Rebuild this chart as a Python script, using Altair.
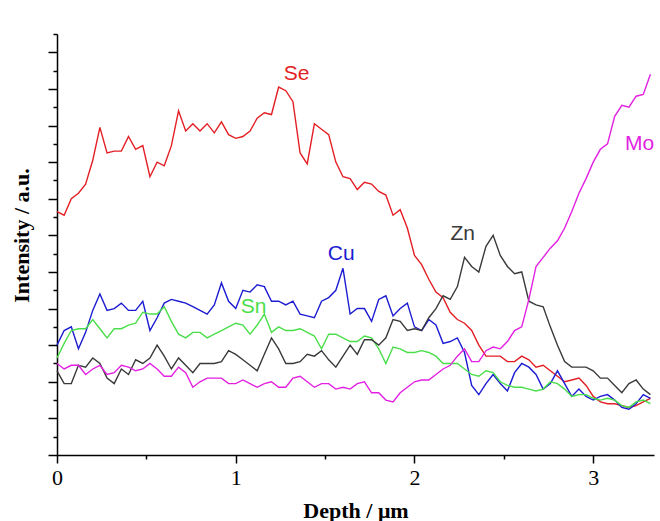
import altair as alt
import pandas as pd

depth = [0.00, 0.04, 0.08, 0.12, 0.16, 0.20, 0.24, 0.28, 0.32, 0.36,
         0.40, 0.44, 0.48, 0.52, 0.56, 0.60, 0.64, 0.68, 0.72, 0.76,
         0.80, 0.84, 0.88, 0.92, 0.96, 1.00, 1.04, 1.08, 1.12, 1.16,
         1.20, 1.24, 1.28, 1.32, 1.36, 1.40, 1.44, 1.48, 1.52, 1.56,
         1.60, 1.64, 1.68, 1.72, 1.76, 1.80, 1.84, 1.88, 1.92, 1.96,
         2.00, 2.04, 2.08, 2.12, 2.16, 2.20, 2.24, 2.28, 2.32, 2.36,
         2.40, 2.44, 2.48, 2.52, 2.56, 2.60, 2.64, 2.68, 2.72, 2.76,
         2.80, 2.84, 2.88, 2.92, 2.96, 3.00, 3.04, 3.08, 3.12, 3.16,
         3.20, 3.24, 3.28, 3.32]

se = [13.3, 13.1, 14.0, 14.3, 14.8, 16.1, 17.9, 16.5, 16.6, 16.6,
      17.4, 16.7, 16.9, 15.2, 16.0, 15.8, 16.9, 18.8, 17.7, 18.1,
      17.7, 18.1, 17.6, 18.2, 17.5, 17.3, 17.4, 17.7, 18.4, 18.7,
      18.6, 20.1, 19.9, 19.3, 16.5, 15.9, 18.1, 17.8, 17.5, 16.0,
      15.2, 15.1, 14.5, 14.9, 14.8, 14.4, 14.2, 13.1, 13.4, 12.4,
      10.9, 10.4, 9.6, 8.9, 8.6, 7.8, 7.4, 7.2, 6.8, 6.0,
      5.4, 5.4, 5.4, 5.1, 5.1, 5.4, 5.2, 4.8, 4.9, 4.6,
      4.3, 4.0, 4.1, 4.2, 3.8, 3.2, 2.9, 2.8, 2.8, 2.7,
      2.6, 2.7, 2.9, 3.1]

cu = [6.0, 6.8, 7.0, 5.8, 6.7, 7.9, 8.8, 7.9, 8.0, 8.3,
      7.9, 7.9, 8.4, 6.8, 7.5, 8.3, 8.5, 8.4, 8.3, 8.1,
      7.9, 7.7, 8.2, 9.4, 8.4, 8.0, 9.0, 8.9, 9.3, 9.2,
      8.4, 8.4, 8.2, 8.4, 7.7, 7.6, 7.5, 8.4, 8.6, 9.0,
      10.2, 7.7, 8.0, 8.0, 7.3, 8.5, 8.7, 7.6, 8.0, 8.3,
      7.0, 6.8, 7.4, 7.1, 6.1, 6.2, 6.4, 5.6, 3.8, 3.3,
      3.9, 4.4, 3.9, 3.5, 4.5, 5.0, 4.8, 4.4, 3.6, 3.9,
      4.6, 3.9, 3.2, 3.6, 3.2, 3.0, 3.2, 3.3, 3.0, 2.6,
      2.5, 2.8, 3.3, 3.1]

sn = [5.3, 6.1, 6.8, 6.9, 6.9, 7.4, 6.9, 6.4, 6.9, 6.9,
      7.1, 7.2, 7.8, 7.7, 7.7, 8.1, 7.3, 6.6, 6.4, 6.7,
      6.7, 6.4, 6.6, 6.8, 7.0, 7.2, 7.1, 6.6, 7.1, 7.7,
      6.7, 7.0, 6.8, 6.8, 6.9, 6.7, 6.5, 5.8, 6.6, 6.6,
      6.4, 6.2, 6.2, 6.5, 6.4, 5.8, 5.0, 5.9, 5.8, 5.6,
      5.6, 5.7, 5.6, 5.4, 5.0, 5.0, 5.0, 4.7, 4.4, 4.3,
      4.6, 4.5, 4.0, 3.8, 3.7, 3.7, 3.6, 3.5, 3.6, 4.0,
      3.9, 3.6, 3.2, 3.3, 3.3, 3.1, 3.0, 3.1, 3.0, 2.7,
      2.6, 2.9, 3.0, 2.8]

zn = [4.6, 3.9, 3.9, 4.9, 4.8, 5.3, 5.0, 4.2, 3.9, 4.7,
      4.4, 5.2, 5.0, 5.3, 6.0, 5.4, 4.7, 5.3, 4.9, 4.5,
      5.0, 5.0, 5.0, 5.1, 5.7, 5.5, 5.2, 4.9, 4.6, 5.5,
      6.4, 5.8, 5.0, 5.0, 5.1, 5.5, 5.4, 5.7, 5.2, 4.8,
      5.4, 6.0, 5.5, 6.3, 6.3, 6.0, 6.4, 7.4, 7.3, 6.8,
      6.9, 6.8, 7.5, 8.0, 8.7, 8.5, 9.2, 10.8, 10.3, 10.0,
      11.4, 12.0, 10.9, 10.3, 9.9, 10.0, 8.4, 8.2, 8.1, 7.0,
      6.0, 5.1, 4.8, 4.8, 4.8, 4.6, 4.2, 4.2, 3.8, 3.4,
      3.9, 4.1, 3.6, 3.3]

mo = [5.0, 4.7, 4.9, 4.9, 4.4, 4.7, 4.9, 4.4, 4.5, 4.9,
      4.8, 4.6, 4.7, 5.0, 4.7, 4.3, 4.3, 4.8, 4.5, 3.7,
      4.0, 4.2, 4.2, 4.2, 3.9, 3.9, 4.1, 3.9, 3.7, 3.9,
      4.0, 3.7, 3.7, 4.2, 4.3, 4.0, 3.7, 3.9, 3.9, 3.6,
      3.7, 3.6, 3.9, 4.0, 3.4, 3.4, 3.0, 2.9, 3.4, 3.7,
      4.0, 4.1, 4.1, 4.4, 4.7, 4.9, 5.4, 5.8, 5.1, 5.1,
      5.7, 5.9, 5.8, 6.2, 6.8, 7.0, 8.5, 10.3, 10.8, 11.3,
      11.7, 12.4, 13.3, 14.3, 15.1, 16.0, 16.7, 17.0, 18.5, 19.1,
      19.0, 19.6, 19.7, 20.8]

elements = ["Se", "Cu", "Sn", "Zn", "Mo"]
colors = ["#e31e24", "#1c1cd2", "#4ade4a", "#3a3a3a", "#e21fe2"]
label_x = [1.34, 1.59, 1.10, 2.27, 3.26]
label_y = [20.8, 11.0, 8.1, 12.1, 17.0]

x_ticks = [0, 0.5, 1, 1.5, 2, 2.5, 3]
y_ticks = list(range(0, 24))

rows = []
for name, vals in zip(elements, [se, cu, sn, zn, mo]):
    for d, v in zip(depth, vals):
        rows.append({"element": name, "depth": d, "intensity": v})
df = pd.DataFrame(rows)

labels_df = pd.DataFrame({"element": elements, "depth": label_x, "intensity": label_y})

color_scale = alt.Scale(domain=elements, range=colors)
x_scale = alt.Scale(domain=[0, 3.34], nice=False, zero=False)
y_scale = alt.Scale(domain=[0, 23], nice=False)

x_axis = alt.Axis(
    values=x_ticks,
    labelExpr="datum.value % 1 === 0 ? format(datum.value, 'd') : ''",
    tickSize={"condition": {"test": "datum.value % 1 === 0", "value": 8}, "value": 4},
    labelFont="Liberation Serif", labelFontSize=22, labelColor="black",
    labelPadding=4, labelOverlap=False, labelFlush=False,
    title="Depth / μm", titleFont="Liberation Serif", titleFontSize=22,
    titleFontWeight="bold", titleColor="black",
    titleBaseline="alphabetic", titleY=62,
    grid=False, domainColor="black", domainWidth=1.5,
    tickColor="black", tickWidth=1.5,
)

y_axis = alt.Axis(
    values=y_ticks,
    tickCount=24,
    labelExpr="''",
    labelOverlap=False,
    labelFontSize=1,
    tickSize={"condition": {"test": "datum.value % 2 === 0", "value": 9}, "value": 4},
    title="Intensity / a.u.", titleFont="Liberation Serif", titleFontSize=22,
    titleFontWeight="bold", titleColor="black",
    titleAngle=270, titleAlign="center", titleBaseline="middle",
    titleX=-36, titleY=201,
    grid=False, domainColor="black", domainWidth=1.5,
    tickColor="black", tickWidth=1.5,
)

lines = alt.Chart(df).mark_line(strokeWidth=1.4).encode(
    x=alt.X("depth:Q", scale=x_scale, axis=x_axis),
    y=alt.Y("intensity:Q", scale=y_scale, axis=y_axis),
    color=alt.Color("element:N", scale=color_scale, legend=None),
    detail="element:N",
)

texts = alt.Chart(labels_df).mark_text(
    font="Liberation Sans", fontSize=21, align="center", baseline="middle"
).encode(
    x=alt.X("depth:Q", scale=x_scale, axis=x_axis),
    y=alt.Y("intensity:Q", scale=y_scale, axis=y_axis),
    text="element:N",
    color=alt.Color("element:N", scale=color_scale, legend=None),
)

chart = alt.layer(lines, texts).properties(
    width=597, height=421,
    autosize=alt.AutoSizeParams(type="none"),
    padding={"left": 57, "top": 34, "right": 6, "bottom": 66},
    background="white",
).configure_view(stroke=None)

chart.save("out.html", embed_options={"renderer": "svg", "actions": False})
